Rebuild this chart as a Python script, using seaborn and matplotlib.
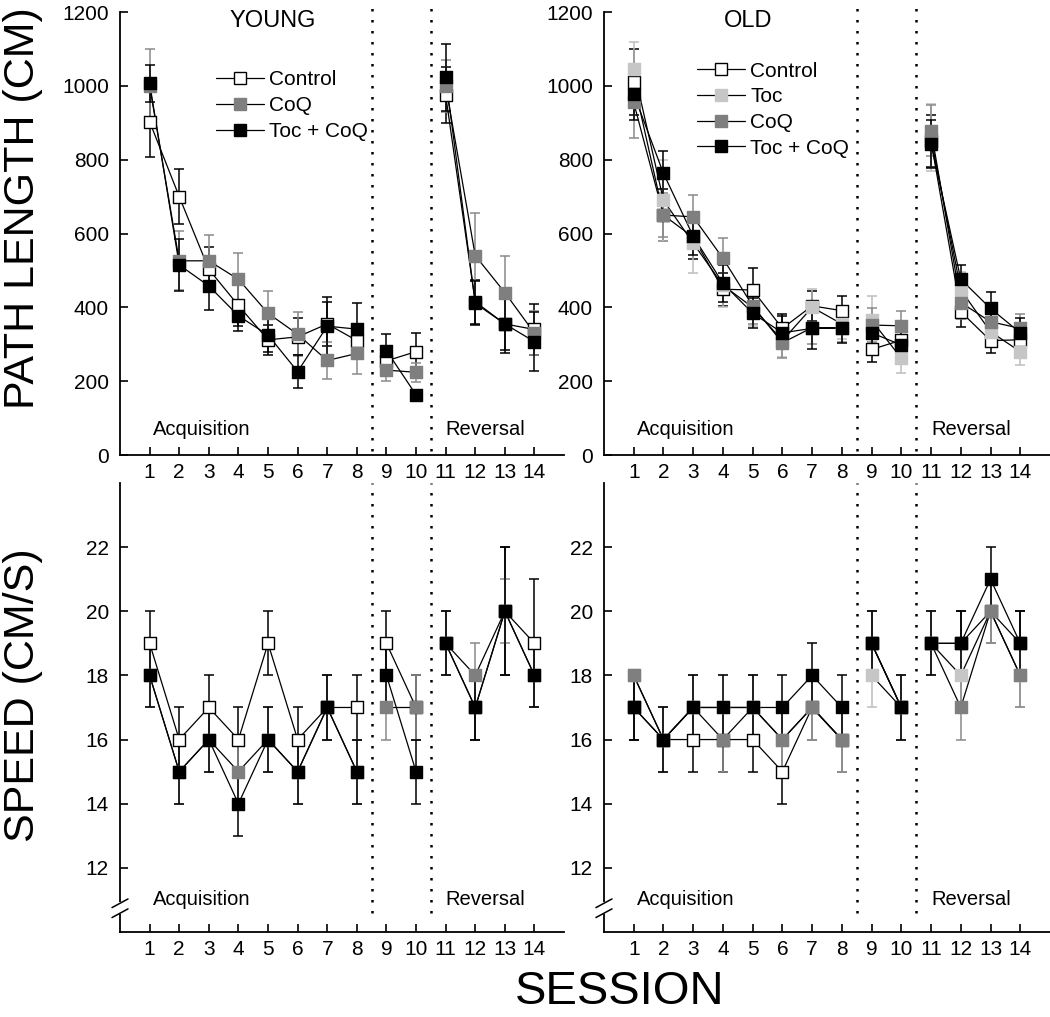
import numpy as np
import pandas as pd
import seaborn as sns
import matplotlib.pyplot as plt
from matplotlib.lines import Line2D

#%% data

sessions = list(range(1, 15))
blocks = [1] * 8 + [2] * 2 + [3] * 4   # acquisition / probe / reversal

# path length (cm), young
young_path_control = [903, 700, 503, 405, 312, 320, 355, 310, 255, 280, 975, 415, 355, 340]
young_path_control_err = [95, 75, 60, 55, 40, 50, 60, 45, 40, 50, 75, 60, 70, 70]
young_path_coq = [1000, 526, 526, 476, 384, 327, 256, 275, 230, 224, 1000, 540, 440, 330]
young_path_coq_err = [100, 80, 70, 70, 60, 60, 50, 55, 30, 25, 70, 115, 100, 60]
young_path_toccoq = [1007, 515, 458, 377, 325, 226, 349, 341, 283, 163, 1023, 411, 355, 307]
young_path_toccoq_err = [50, 70, 65, 40, 45, 45, 80, 70, 45, 0, 90, 60, 80, 80]

# path length (cm), old
old_path_control = [1011, 650, 590, 449, 447, 343, 404, 391, 286, 311, 850, 388, 310, 312]
old_path_control_err = [90, 70, 60, 45, 60, 40, 40, 40, 35, 40, 70, 40, 35, 40]
old_path_toc = [1045, 690, 574, 460, 400, 310, 400, 355, 365, 262, 860, 447, 334, 280]
old_path_toc_err = [75, 110, 80, 60, 50, 45, 50, 40, 65, 40, 90, 50, 40, 35]
old_path_coq = [955, 650, 645, 533, 404, 304, 345, 345, 352, 350, 879, 413, 361, 343]
old_path_coq_err = [95, 60, 60, 55, 50, 40, 45, 40, 45, 40, 70, 45, 40, 40]
old_path_toccoq = [978, 763, 593, 465, 384, 331, 343, 343, 331, 298, 843, 476, 397, 331]
old_path_toccoq_err = [70, 60, 50, 50, 40, 45, 55, 40, 40, 45, 65, 40, 45, 40]

# speed (cm/s), young
young_speed_control = [19, 16, 17, 16, 19, 16, 17, 17, 19, 17, 19, 17, 20, 19]
young_speed_control_err = [1, 1, 1, 1, 1, 1, 1, 1, 1, 1, 1, 1, 2, 2]
young_speed_coq = [18, 15, 16, 15, 16, 15, 17, 15, 17, 17, 19, 18, 20, 18]
young_speed_coq_err = [1, 1, 1, 1, 1, 1, 1, 1, 1, 1, 1, 1, 1, 1]
young_speed_toccoq = [18, 15, 16, 14, 16, 15, 17, 15, 18, 15, 19, 17, 20, 18]
young_speed_toccoq_err = [1, 1, 1, 1, 1, 1, 1, 1, 1, 1, 1, 1, 2, 1]

# speed (cm/s), old
old_speed_control = [17, 16, 16, 16, 16, 15, 17, 16, 19, 17, 19, 19, 20, 19]
old_speed_control_err = [1, 1, 1, 1, 1, 1, 1, 1, 1, 1, 1, 1, 1, 1]
old_speed_toc = [18, 16, 17, 17, 17, 16, 17, 16, 18, 17, 19, 18, 20, 18]
old_speed_toc_err = [0, 1, 1, 1, 1, 1, 1, 1, 1, 1, 1, 1, 1, 1]
old_speed_coq = [18, 16, 17, 16, 17, 16, 17, 16, 19, 17, 19, 17, 20, 18]
old_speed_coq_err = [0, 1, 1, 1, 1, 1, 1, 1, 1, 1, 1, 1, 1, 1]
old_speed_toccoq = [17, 16, 17, 17, 17, 17, 18, 17, 19, 17, 19, 19, 21, 19]
old_speed_toccoq_err = [1, 1, 1, 1, 1, 1, 1, 1, 1, 1, 1, 1, 1, 1]

#%% style

sns.set_theme(style="ticks")
plt.rcParams['font.family'] = ['Liberation Sans', 'DejaVu Sans']
plt.rcParams['text.color'] = 'black'
plt.rcParams['axes.labelcolor'] = 'black'

# face, edge, errorbar colour
styles = {
    'Control': ('white', 'black', 'black'),
    'Toc': ('#c6c6c6', '#c6c6c6', '#bdbdbd'),
    'CoQ': ('#7f7f7f', '#7f7f7f', '#8a8a8a'),
    'Toc + CoQ': ('black', 'black', 'black'),
}

fig = plt.figure(figsize=(10.5, 10.17), dpi=100)
ax_yp = fig.add_axes([0.1143, 0.5526, 0.4229, 0.4356])
ax_op = fig.add_axes([0.5752, 0.5526, 0.4248, 0.4356])
ax_ys = fig.add_axes([0.1143, 0.0836, 0.4229, 0.4415])
ax_os = fig.add_axes([0.5752, 0.0836, 0.4248, 0.4415])


def draw_groups(ax, groups):
    for k, (name, vals, errs) in enumerate(groups):
        face, edge, ecol = styles[name]
        ax.errorbar(sessions, vals, yerr=errs, fmt='none', ecolor=ecol,
                    elinewidth=1.1, capsize=3.6, capthick=1.1, zorder=2 + k * 0.01)
        df = pd.DataFrame({'session': sessions, 'value': vals, 'block': blocks})
        sns.lineplot(data=df, x='session', y='value', units='block', estimator=None,
                     color='black', linewidth=0.9, ax=ax, legend=False, zorder=3)
        sns.scatterplot(data=df, x='session', y='value', marker='s', s=85,
                        color=face, edgecolor=edge, linewidth=1.0, ax=ax,
                        legend=False, zorder=4 + k)


def style_axes(ax, ylim, yticks, dot_lo, dot_hi):
    ax.set_xlim(0, 15)
    ax.set_ylim(*ylim)
    ax.set_xticks(sessions)
    ax.set_yticks(yticks)
    ax.set_xlabel('')
    ax.set_ylabel('')
    for side in ['top', 'right']:
        ax.spines[side].set_visible(False)
    for side in ['left', 'bottom']:
        ax.spines[side].set_linewidth(1.3)
        ax.spines[side].set_color('black')
    ax.tick_params(direction='in', length=6, width=1.2, labelsize=15, colors='black')
    ax.tick_params(axis='y', pad=8)
    ax.tick_params(axis='x', pad=6)
    for xv in [8.5, 10.5]:
        ax.axvline(xv, ymin=dot_lo, ymax=dot_hi, color='black', linewidth=1.8,
                   linestyle=(0, (1, 3.4)), clip_on=False, zorder=1)


draw_groups(ax_yp, [('Control', young_path_control, young_path_control_err),
                    ('CoQ', young_path_coq, young_path_coq_err),
                    ('Toc + CoQ', young_path_toccoq, young_path_toccoq_err)])
draw_groups(ax_op, [('Control', old_path_control, old_path_control_err),
                    ('Toc', old_path_toc, old_path_toc_err),
                    ('CoQ', old_path_coq, old_path_coq_err),
                    ('Toc + CoQ', old_path_toccoq, old_path_toccoq_err)])
draw_groups(ax_ys, [('Control', young_speed_control, young_speed_control_err),
                    ('CoQ', young_speed_coq, young_speed_coq_err),
                    ('Toc + CoQ', young_speed_toccoq, young_speed_toccoq_err)])
draw_groups(ax_os, [('Control', old_speed_control, old_speed_control_err),
                    ('Toc', old_speed_toc, old_speed_toc_err),
                    ('CoQ', old_speed_coq, old_speed_coq_err),
                    ('Toc + CoQ', old_speed_toccoq, old_speed_toccoq_err)])

for ax in [ax_yp, ax_op]:
    style_axes(ax, (0, 1200), [0, 200, 400, 600, 800, 1000, 1200], 0.01, 1.027)
    ax.text(1.1, 70, 'Acquisition', fontsize=14.5, va='center', ha='left')
    ax.text(11.0, 70, 'Reversal', fontsize=14.5, va='center', ha='left')

for ax in [ax_ys, ax_os]:
    style_axes(ax, (10, 24), [12, 14, 16, 18, 20, 22], 0.042, 1.0)
    ax.text(1.1, 11.0, 'Acquisition', fontsize=14.5, va='center', ha='left')
    ax.text(11.0, 11.0, 'Reversal', fontsize=14.5, va='center', ha='left')
    # axis break on the y axis
    tr = ax.get_yaxis_transform()
    ax.plot([0, 0], [10.62, 10.86], color='white', linewidth=3, transform=tr,
            clip_on=False, zorder=10)
    ax.plot([-0.018, 0.018], [10.45, 10.72], color='black', linewidth=1.1,
            transform=tr, clip_on=False, zorder=11)
    ax.plot([-0.018, 0.018], [10.76, 11.03], color='black', linewidth=1.1,
            transform=tr, clip_on=False, zorder=11)

ax_yp.text(5.15, 1175, 'YOUNG', fontsize=17, ha='center', va='center')
ax_op.text(4.85, 1175, 'OLD', fontsize=17, ha='center', va='center')


def legend_handles(names):
    hs = []
    for name in names:
        face, edge, _ = styles[name]
        hs.append(Line2D([], [], color='black', linewidth=0.9, marker='s',
                         markersize=9, markerfacecolor=face, markeredgecolor=edge,
                         markeredgewidth=1.0, label=name))
    return hs


for ax, names, anchor in [(ax_yp, ['Control', 'CoQ', 'Toc + CoQ'], (0.216, 0.868)),
                          (ax_op, ['Control', 'Toc', 'CoQ', 'Toc + CoQ'], (0.2085, 0.888))]:
    ax.legend(handles=legend_handles(names), loc='upper left', bbox_to_anchor=anchor,
              frameon=False, fontsize=15, borderpad=0, borderaxespad=0,
              handlelength=2.3, handletextpad=0.25, labelspacing=0.32)

fig.text(0.022, 1 - 208 / 1017, 'PATH LENGTH (CM)', rotation=90, fontsize=31,
         ha='center', va='center')
fig.text(0.022, 1 - 695 / 1017, 'SPEED (CM/S)', rotation=90, fontsize=31,
         ha='center', va='center')
fig.text(620 / 1050, 1 - 992 / 1017, 'SESSION', fontsize=34, ha='center', va='center')

fig.savefig('out.png', dpi=100)
